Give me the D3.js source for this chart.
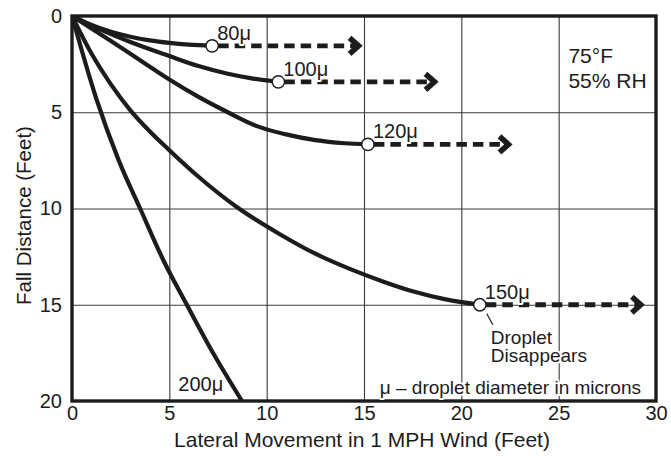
<!DOCTYPE html>
<html><head><meta charset="utf-8">
<script src="https://cdn.jsdelivr.net/npm/d3@7"></script>
<style>
body{margin:0;background:#fff;}
svg{display:block;font-family:"Liberation Sans",Arial,Helvetica,sans-serif;}
</style></head>
<body><svg id="c" width="671" height="456"></svg>
<script>
// ---- data ----
const xTicks = [0, 5, 10, 15, 20, 25, 30];
const yTicks = [0, 5, 10, 15, 20];
const sizes = ["80μ", "100μ", "120μ", "150μ", "200μ"];
const path80  = [[0,0],[1,0.47],[2,0.82],[3,1.08],[4,1.27],[5,1.4],[6,1.49],[7.2,1.55]];
const path100 = [[0,0],[1.5,0.72],[3,1.35],[5,2.08],[6.5,2.6],[8,3.0],[9.3,3.25],[10.6,3.42]];
const path120 = [[0,0],[2,1.3],[3.5,2.3],[5,3.3],[6.5,4.2],[8,5.0],[9.5,5.72],[11,6.15],[12.5,6.45],[14,6.61],[15.2,6.67]];
const path150 = [[0,0],[1,1.95],[2,3.55],[3,4.9],[4,6.0],[5,6.97],[6.5,8.35],[8.5,9.95],[10.7,11.35],[12.5,12.35],[14.3,13.15],[16,13.8],[17.5,14.3],[19.2,14.72],[20.95,15.0]];
const path200 = [[0,0],[1.25,4.3],[2.4,7.5],[3.5,10],[4.7,12.7],[5.9,15],[7.3,17.6],[8.73,20]];
const paths = [path80, path100, path120, path150, path200];
const disappearX = [7.2, 10.6, 15.2, 20.95];
const disappearY = [1.55, 3.42, 6.67, 15.0];
const arrowEndX  = [14.9, 18.8, 22.6, 29.4];
const conditions = ["75°F", "55% RH"];
const note = "μ – droplet diameter in microns";
const dropNote = ["Droplet", "Disappears"];
const xTitle = "Lateral Movement in 1 MPH Wind (Feet)";
const yTitle = "Fall Distance (Feet)";

// ---- layout ----
const svg = d3.select("#c");
const L = 72, R = 656, T = 16, B = 401;
const x = d3.scaleLinear().domain([0, 30]).range([L, R]);
const y = d3.scaleLinear().domain([0, 20]).range([T, B]);
const ink = "#1c1c1c";

// grid
const grid = svg.append("g");
grid.append("g").attr("transform", `translate(0,${B})`)
  .call(d3.axisBottom(x).tickValues(xTicks.slice(1, -1)).tickSize(-(B - T)).tickFormat(""))
  .call(g => g.select(".domain").remove())
  .selectAll("line").attr("stroke", "#3a3a3a").attr("stroke-width", 1.1);
grid.append("g").attr("transform", `translate(${L},0)`)
  .call(d3.axisLeft(y).tickValues(yTicks.slice(1, -1)).tickSize(-(R - L)).tickFormat(""))
  .call(g => g.select(".domain").remove())
  .selectAll("line").attr("stroke", "#3a3a3a").attr("stroke-width", 1.1);

// tick labels
const xa = svg.append("g").attr("transform", `translate(0,${B})`)
  .call(d3.axisBottom(x).tickValues(xTicks).tickSize(0).tickPadding(5));
xa.select(".domain").remove();
xa.selectAll("text").attr("font-size", 20).attr("fill", ink).attr("font-family", null);
const ya = svg.append("g").attr("transform", `translate(${L},0)`)
  .call(d3.axisLeft(y).tickValues(yTicks).tickSize(0).tickPadding(10));
ya.select(".domain").remove();
ya.selectAll("text").attr("font-size", 20).attr("fill", ink).attr("font-family", null);

// axis titles
svg.append("text").attr("x", 362).attr("y", 447).attr("text-anchor", "middle")
  .attr("font-size", 21).attr("fill", ink).text(xTitle);
svg.append("text").attr("transform", `translate(31,${(T + B) / 2 + 7}) rotate(-90)`)
  .attr("text-anchor", "middle").attr("font-size", 20.5).attr("fill", ink).text(yTitle);

// curves
const line = d3.line().x(d => x(d[0])).y(d => y(d[1])).curve(d3.curveMonotoneX);
svg.append("clipPath").attr("id", "pc").append("rect")
  .attr("x", L).attr("y", T).attr("width", R - L).attr("height", B - T);
svg.append("g").attr("clip-path", "url(#pc)").selectAll("path.curve").data(paths).join("path")
  .attr("class", "curve").attr("d", line).attr("fill", "none")
  .attr("stroke", ink).attr("stroke-width", 4.2).attr("stroke-linecap", "round");

// frame
svg.append("rect").attr("x", L).attr("y", T).attr("width", R - L).attr("height", B - T)
  .attr("fill", "none").attr("stroke", ink).attr("stroke-width", 3.4);

// arrows
const arrows = svg.append("g");
disappearX.forEach((dx, i) => {
  const cy = y(disappearY[i]), tip = x(arrowEndX[i]);
  arrows.append("line").attr("x1", x(dx) + 6).attr("x2", tip - 6).attr("y1", cy).attr("y2", cy)
    .attr("stroke", ink).attr("stroke-width", 4.8).attr("stroke-dasharray", "10.5,6");
  arrows.append("path")
    .attr("d", `M${tip - 12.5},${cy - 8}L${tip - 3.5},${cy}L${tip - 12.5},${cy + 8}`)
    .attr("fill", "none").attr("stroke", ink).attr("stroke-width", 5.5)
    .attr("stroke-linejoin", "miter").attr("stroke-miterlimit", 10);
});

// droplet-disappears circles
svg.append("g").selectAll("circle").data(disappearX).join("circle")
  .attr("cx", d => x(d)).attr("cy", (d, i) => y(disappearY[i])).attr("r", 6.2)
  .attr("fill", "#fff").attr("stroke", ink).attr("stroke-width", 1.5);

// halo helper
function halo(sel) {
  return sel.attr("stroke", "#fff").attr("stroke-width", 4).attr("paint-order", "stroke")
    .attr("stroke-linejoin", "round");
}

// series labels
disappearX.forEach((dx, i) => {
  halo(svg.append("text").attr("x", x(dx) + 5).attr("y", y(disappearY[i]) - 6)
    .attr("font-size", 20).attr("fill", ink).text(sizes[i]));
});
halo(svg.append("text").attr("x", x(7.77)).attr("y", y(19.5)).attr("text-anchor", "end")
  .attr("font-size", 20).attr("fill", ink).text(sizes[4]));

// conditions
conditions.forEach((t, i) => {
  svg.append("text").attr("x", x(25.5)).attr("y", 63 + i * 24.5)
    .attr("font-size", 21).attr("fill", ink).text(t);
});

// droplet disappears annotation
const c150x = x(disappearX[3]), c150y = y(disappearY[3]);
svg.append("line").attr("x1", c150x + 7).attr("y1", c150y + 9).attr("x2", c150x + 13).attr("y2", c150y + 20)
  .attr("stroke", ink).attr("stroke-width", 1.2);
dropNote.forEach((t, i) => {
  halo(svg.append("text").attr("x", c150x + 11).attr("y", 344 + i * 18)
    .attr("font-size", 19).attr("fill", ink).text(t));
});
halo(svg.append("text").attr("x", R - 15).attr("y", 394).attr("text-anchor", "end")
  .attr("font-size", 19).attr("fill", ink).text(note));
</script></body></html>
